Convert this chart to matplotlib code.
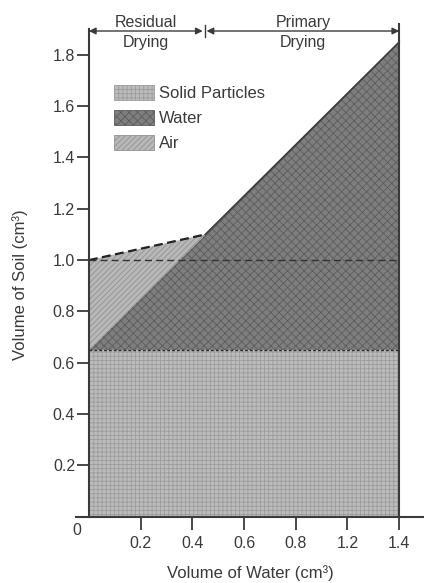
import matplotlib.pyplot as plt
from matplotlib.patches import Patch

# Datos
water_x = [0.0, 0.45, 1.2]          # volumen de agua (cm3)
total_volume = [1.0, 1.1, 1.85]     # volumen del suelo (cm3)
solid_volume = 0.65                 # volumen de solidos (cm3)
x_tick_pos = [0.2, 0.4, 0.6, 0.8, 1.0, 1.2]
x_tick_labels = ["0.2", "0.4", "0.6", "0.8", "1.2", "1.4"]
y_ticks = [0.2, 0.4, 0.6, 0.8, 1.0, 1.2, 1.4, 1.6, 1.8]
legend_labels = ["Solid Particles", "Water", "Air"]
phase_labels = ["Residual\nDrying", "Primary\nDrying"]

plt.rcParams["font.family"] = ["Liberation Sans", "DejaVu Sans"]
plt.rcParams["font.size"] = 12
plt.rcParams["hatch.linewidth"] = 0.6

DARK = "#3a3a3a"
styles = {
    "Solid Particles": dict(facecolor="#bcbcbc", edgecolor="#9c9c9c", hatch="++++"),
    "Water": dict(facecolor="#7e7e7e", edgecolor="#5c5c5c", hatch="xxxx"),
    "Air": dict(facecolor="#b8b8b8", edgecolor="#929292", hatch="//////"),
}

fig = plt.figure(figsize=(4.24, 5.83), dpi=100)
ax = fig.add_axes([76 / 424, 0.1137, 348 / 424, 0.845])

x_end = water_x[-1]
water_top = [solid_volume + w for w in water_x]
n_res = 2  # puntos del tramo residual

# Areas
ax.fill_between([0, x_end], 0, solid_volume, lw=0, **styles["Solid Particles"])
ax.fill_between(water_x, solid_volume, water_top, lw=0, **styles["Water"])
ax.fill_between(water_x[:n_res], water_top[:n_res], total_volume[:n_res], lw=0, **styles["Air"])

# Contornos
ax.plot([0, x_end], [solid_volume, solid_volume], color="#2a2a2a", lw=1.0, ls=(0, (2, 1.5)))
ax.plot(water_x[n_res - 1:], total_volume[n_res - 1:], color=DARK, lw=1.2)
ax.plot(water_x[:n_res], total_volume[:n_res], color="#222222", lw=1.6, ls=(0, (4, 2)))
ax.plot([0, x_end], [total_volume[0], total_volume[0]], color="#333333", lw=1.0, ls=(0, (5, 3)))
ax.plot([x_end, x_end], [0, 1.92], color=DARK, lw=1.5, clip_on=False)

# Flechas de las fases de secado
y_arrow = 1.893
bounds = [(0.0, water_x[1] - 0.01), (water_x[1] + 0.005, x_end)]
for (x0, x1), label in zip(bounds, phase_labels):
    ax.annotate("", xy=(x0, y_arrow), xytext=(x1, y_arrow),
                arrowprops=dict(arrowstyle="<|-|>", color=DARK, lw=1.0,
                                shrinkA=0, shrinkB=0, mutation_scale=10),
                annotation_clip=False)
    ax.text((x0 + x1) / 2, y_arrow - 0.005, label, ha="center", va="center",
            linespacing=1.45, color=DARK, fontsize=11.5, clip_on=False)
ax.plot([water_x[1] - 0.002] * 2, [y_arrow - 0.025, y_arrow + 0.025], color=DARK, lw=1.0, clip_on=False)

# Ejes
ax.set_xlim(-0.05, 1.296)
ax.set_ylim(0, 1.92)
ax.spines["left"].set_position(("data", 0))
ax.spines["left"].set_bounds(0, 1.9)
for side in ("top", "right"):
    ax.spines[side].set_visible(False)
for side in ("left", "bottom"):
    ax.spines[side].set_color(DARK)
    ax.spines[side].set_linewidth(1.5)

ax.set_xticks(x_tick_pos)
ax.set_xticklabels(x_tick_labels)
ax.set_yticks(y_ticks)
ax.set_yticklabels([f"{v:.1f}" for v in y_ticks])
ax.tick_params(axis="both", direction="out", length=9, width=1.3, colors=DARK, labelsize=11.5)
ax.tick_params(axis="y", pad=1)
ax.tick_params(axis="x", pad=5)
ax.text(-0.046, -0.052, "0", ha="center", va="center", color=DARK, fontsize=11.5)

ax.set_xlabel("Volume of Water (cm³)", color=DARK, fontsize=12, labelpad=10)
ax.set_ylabel("Volume of Soil (cm³)", color=DARK, fontsize=12)
ax.yaxis.set_label_coords(-0.137, 0.47)

# Leyenda
handles = [Patch(lw=0.6, **styles[k]) for k in legend_labels]
ax.legend(handles, legend_labels, loc="upper left", bbox_to_anchor=(0.11, 0.876),
          frameon=False, fontsize=12, handlelength=2.4, handleheight=0.95,
          handletextpad=0.3, labelspacing=0.55, borderpad=0, borderaxespad=0,
          labelcolor=DARK)

fig.savefig("out.png", dpi=100)
